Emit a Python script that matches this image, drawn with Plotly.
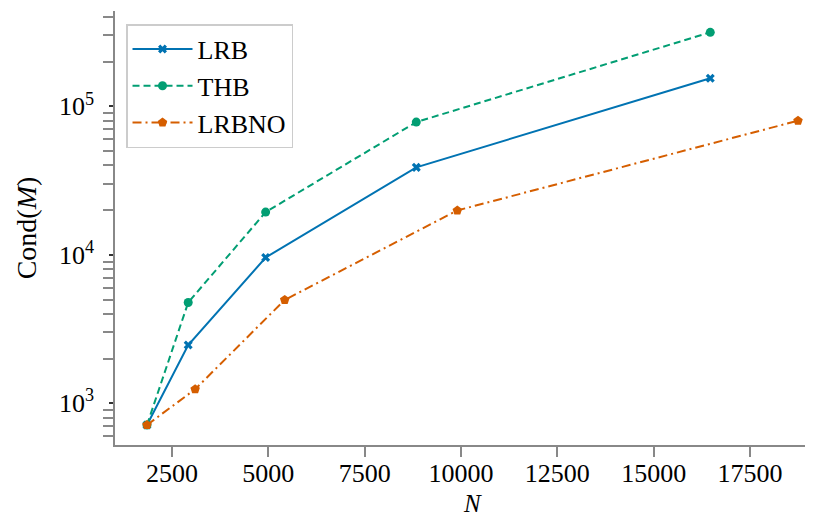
import plotly.graph_objects as go

# Data
lrb_n = [1850, 2920, 4930, 8840, 16470]
lrb_cond = [714, 2470, 9590, 38800, 154600]

thb_n = [1850, 2920, 4930, 8840, 16470]
thb_cond = [714, 4775, 19390, 78300, 315000]

lrbno_n = [1850, 3100, 5425, 9905, 18747]
lrbno_cond = [714, 1243, 4970, 19900, 80000]

x_ticks = [2500, 5000, 7500, 10000, 12500, 15000, 17500]
y_ticks = [1e3, 1e4, 1e5]
y_ticktext = ["10<sup>3</sup>", "10<sup>4</sup>", "10<sup>5</sup>"]
y_minor = [m * 10 ** k for k in (2, 3, 4, 5) for m in range(2, 10)]

BLUE = "#0173b2"
GREEN = "#029e73"
ORANGE = "#d55e00"
FONT = "Liberation Serif"

fig = go.Figure()
fig.add_trace(go.Scatter(
    x=lrb_n, y=lrb_cond, name="LRB", mode="lines+markers",
    line=dict(color=BLUE, width=2),
    marker=dict(symbol="x", size=8, color=BLUE),
))
fig.add_trace(go.Scatter(
    x=thb_n, y=thb_cond, name="THB", mode="lines+markers",
    line=dict(color=GREEN, width=2, dash="7px,4px"),
    marker=dict(symbol="circle", size=9, color=GREEN),
))
fig.add_trace(go.Scatter(
    x=lrbno_n, y=lrbno_cond, name="LRBNO", mode="lines+markers",
    line=dict(color=ORANGE, width=2, dash="9px,4px,2px,4px"),
    marker=dict(symbol="pentagon", size=10, color=ORANGE),
))

fig.add_annotation(
    text="<i>N</i>", xref="paper", yref="paper", x=0.507, y=-0.134,
    xanchor="center", yanchor="middle", showarrow=False, borderpad=0,
    font=dict(family=FONT, size=25, color="black"),
)

fig.update_layout(
    width=813, height=518,
    margin=dict(l=107, r=0, t=3, b=81),
    paper_bgcolor="white", plot_bgcolor="white",
    font=dict(family=FONT, size=26, color="black"),
    showlegend=True,
    legend=dict(
        x=0.0156, y=0.97, xanchor="left", yanchor="top",
        bgcolor="white", bordercolor="#cccccc", borderwidth=1.5,
        font=dict(family=FONT, size=26),
        tracegroupgap=0, itemwidth=60,
    ),
    xaxis=dict(
        range=[1020, 19344],
        tickvals=x_ticks, ticktext=[str(v) for v in x_ticks],
        ticks="outside", ticklen=10, tickwidth=1.5, tickcolor="#888888",
        ticklabelstandoff=-6,
        showline=True, linecolor="#888888", linewidth=1.5,
        showgrid=False, zeroline=False,
        tickfont=dict(family=FONT, size=26),
    ),
    yaxis=dict(
        type="log", range=[2.719, 5.642],
        tickvals=y_ticks, ticktext=y_ticktext,
        ticks="outside", ticklen=4, tickwidth=1.5, tickcolor="#333333",
        ticklabelstandoff=10,
        minor=dict(ticks="outside", ticklen=10, tickwidth=1.5,
                   tickcolor="#888888", tickvals=y_minor, showgrid=False),
        showline=True, linecolor="#888888", linewidth=1.5,
        showgrid=False, zeroline=False,
        tickfont=dict(family=FONT, size=26),
        title=dict(text="Cond(<i>M</i>)", font=dict(family=FONT, size=28), standoff=14),
    ),
)

fig.write_html("out.html")
